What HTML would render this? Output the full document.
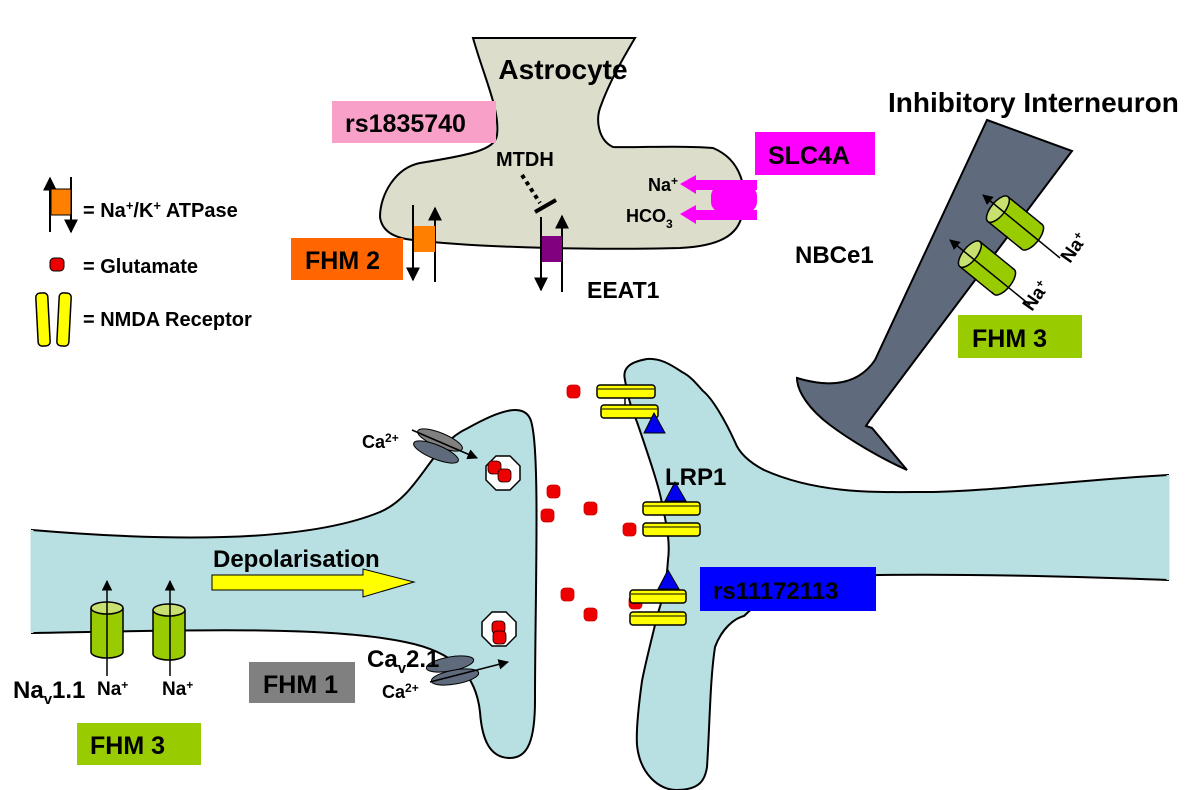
<!DOCTYPE html>
<html><head><meta charset="utf-8"><style>
html,body{margin:0;padding:0;background:#fff}
svg{display:block}
text{font-family:"Liberation Sans",Arial,sans-serif;font-weight:bold;fill:#000}
</style></head><body>
<svg width="1200" height="790" viewBox="0 0 1200 790" xmlns="http://www.w3.org/2000/svg">
<defs>
<marker id="ah" viewBox="0 0 10 10" refX="9" refY="5" markerWidth="7" markerHeight="7" orient="auto-start-reverse"><path d="M0,0 L10,5 L0,10 z" fill="#000"/></marker>
</defs>

<!-- Astrocyte -->
<path d="M473,38 C485,80 500,110 497,135 C495,150 470,155 420,163 C395,168 380,195 380,217 C382,232 395,238 413,240 C480,248 600,250 680,248 C720,246 738,235 742,215 C748,190 742,160 713,148 C680,145 640,148 613,147 C598,140 596,120 600,108 C610,80 625,55 635,38 Z" fill="#ddddcc" stroke="#000" stroke-width="2"/>
<text x="563" y="79" font-size="28" text-anchor="middle">Astrocyte</text>

<!-- Interneuron -->
<path d="M987,120 L1072,151 L870,420 L866,426 L872,428 L907,470 C880,458 850,440 830,425 C810,410 797,392 797,378 C830,388 858,385 875,360 L987,120 Z" fill="#5f6b7c" stroke="#000" stroke-width="2"/>
<text x="888" y="112" font-size="28">Inhibitory Interneuron</text>

<!-- Presynaptic -->
<path d="M32,530 C150,540 300,545 380,512 C420,495 430,445 468,428 C500,410 528,400 532,425 C540,460 535,600 535,700 C535,740 528,758 510,758 C490,758 482,740 480,712 C476,675 455,652 405,642 C330,626 200,630 32,633 Z" fill="#b8dfe2" stroke="#000" stroke-width="2"/>
<path d="M32,530 L32,633" stroke="#b8dfe2" stroke-width="3"/>

<!-- Postsynaptic -->
<path d="M1168,475 C1080,480 980,492 927,492 C880,492 820,495 764,470 C745,460 738,450 735,442 C725,420 712,398 703,391 C695,382 690,376 682,372 C670,364 660,358 647,359 C630,362 622,368 625,380 C628,400 634,415 637,422 C650,460 660,490 662,504 C668,530 670,545 668,560 C666,590 662,600 658,613 C650,645 645,665 642,681 C638,710 636,730 637,745 C640,775 660,790 676,790 C700,790 705,780 707,767 C710,720 710,680 715,647 C722,628 735,618 744,616 C780,580 830,576 880,575 C960,574 1060,576 1168,580 Z" fill="#b8dfe2" stroke="#000" stroke-width="2"/>
<path d="M1168,475 L1168,580" stroke="#b8dfe2" stroke-width="3"/>

<!-- Labels boxes -->
<rect x="332" y="101" width="164" height="42" fill="#f9a0c8"/>
<text x="345" y="132" font-size="25">rs1835740</text>
<rect x="291" y="238" width="112" height="42" fill="#ff6600"/>
<text x="305" y="269" font-size="25">FHM 2</text>
<rect x="755" y="132" width="120" height="43" fill="#ff00ff"/>
<text x="768" y="164" font-size="25">SLC4A</text>
<rect x="958" y="315" width="124" height="43" fill="#99cc00"/>
<text x="972" y="347" font-size="25">FHM 3</text>
<rect x="77" y="723" width="124" height="42" fill="#99cc00"/>
<text x="90" y="754" font-size="25">FHM 3</text>
<rect x="249" y="662" width="106" height="41" fill="#808080"/>
<text x="263" y="693" font-size="25">FHM 1</text>
<rect x="700" y="567" width="176" height="44" fill="#0000ff"/>
<text x="713" y="599" font-size="24">rs11172113</text>

<!-- Astrocyte transporters -->
<line x1="413" y1="205" x2="413" y2="280" stroke="#000" stroke-width="2" marker-end="url(#ah)"/>
<line x1="435" y1="282" x2="435" y2="208" stroke="#000" stroke-width="2" marker-end="url(#ah)"/>
<rect x="414" y="226" width="21" height="26" fill="#ff8000"/>
<line x1="541" y1="217" x2="541" y2="290" stroke="#000" stroke-width="2" marker-end="url(#ah)"/>
<line x1="562" y1="292" x2="562" y2="216" stroke="#000" stroke-width="2" marker-end="url(#ah)"/>
<rect x="542" y="236" width="20" height="26" fill="#800080"/>
<line x1="522" y1="175" x2="540" y2="203" stroke="#000" stroke-width="4" stroke-dasharray="4,4"/>
<line x1="535" y1="212" x2="556" y2="200" stroke="#000" stroke-width="4"/>
<text x="496" y="166" font-size="20">MTDH</text>
<text x="587" y="298" font-size="23">EEAT1</text>
<text x="795" y="263" font-size="24">NBCe1</text>

<!-- NBCe1 magenta -->
<path d="M680,184 L696,175 L696,180 L757,180 L757,190 L696,190 L696,194 Z" fill="#ff00ff"/>
<path d="M680,214 L696,205 L696,210 L757,210 L757,220 L696,220 L696,224 Z" fill="#ff00ff"/>
<rect x="711" y="186" width="46" height="26" rx="10" fill="#ff00ff"/>
<text x="648" y="191" font-size="18">Na<tspan font-size="12" dy="-6">+</tspan></text>
<text x="626" y="222" font-size="18">HCO<tspan font-size="12" dy="6">3</tspan></text>

<!-- Legend -->
<line x1="50" y1="232" x2="50" y2="178" stroke="#000" stroke-width="2" marker-end="url(#ah)"/>
<line x1="71" y1="177" x2="71" y2="232" stroke="#000" stroke-width="2" marker-end="url(#ah)"/>
<rect x="51" y="189" width="20" height="26" fill="#ff8000" stroke="#000" stroke-width="1"/>
<text x="83" y="217" font-size="20">= Na<tspan font-size="13" dy="-7">+</tspan><tspan dy="7">/K</tspan><tspan font-size="13" dy="-7">+</tspan><tspan dy="7"> ATPase</tspan></text>
<rect x="50" y="258" width="14" height="13" rx="4" fill="#e00" stroke="#000"/>
<text x="83" y="273" font-size="20">= Glutamate</text>
<rect x="37" y="293" width="12" height="53" rx="4" fill="#ffff00" stroke="#000" stroke-width="1.5" transform="rotate(-3 43 320)"/>
<rect x="58" y="293" width="12" height="53" rx="4" fill="#ffff00" stroke="#000" stroke-width="1.5" transform="rotate(3 64 320)"/>
<text x="83" y="326" font-size="20">= NMDA Receptor</text>

<!-- Interneuron channels -->
<g stroke="#000" stroke-width="1.5">
<g transform="translate(1015,223) rotate(39)">
<ellipse cx="22" cy="0" rx="7" ry="16" fill="#99cc00"/>
<rect x="-22" y="-15.2" width="44" height="30.4" fill="#99cc00" stroke="none"/>
<ellipse cx="-22" cy="0" rx="7" ry="16" fill="#c8e070"/>
<line x1="-22" y1="-16" x2="22" y2="-16"/><line x1="-22" y1="16" x2="22" y2="16"/>
</g>
<g transform="translate(987,268) rotate(39)">
<ellipse cx="22" cy="0" rx="7" ry="16" fill="#99cc00"/>
<rect x="-22" y="-15.2" width="44" height="30.4" fill="#99cc00" stroke="none"/>
<ellipse cx="-22" cy="0" rx="7" ry="16" fill="#c8e070"/>
<line x1="-22" y1="-16" x2="22" y2="-16"/><line x1="-22" y1="16" x2="22" y2="16"/>
</g>
</g>
<line x1="1060" y1="258" x2="983" y2="195" stroke="#000" stroke-width="1.5" marker-end="url(#ah)"/>
<line x1="1030" y1="305" x2="950" y2="240" stroke="#000" stroke-width="1.5" marker-end="url(#ah)"/>
<g transform="translate(1070,264) rotate(-55)"><text font-size="19">Na<tspan font-size="12" dy="-6">+</tspan></text></g>
<g transform="translate(1032,312) rotate(-55)"><text font-size="19">Na<tspan font-size="12" dy="-6">+</tspan></text></g>

<!-- Nav channels left -->
<g stroke="#000" stroke-width="1.5">
<path d="M91,608 L91,652 A16,6 0 0 0 123,652 L123,608" fill="#99cc00"/>
<ellipse cx="107" cy="608" rx="16" ry="6" fill="#c8e070"/>
<path d="M153,610 L153,654 A16,6 0 0 0 185,654 L185,610" fill="#99cc00"/>
<ellipse cx="169" cy="610" rx="16" ry="6" fill="#c8e070"/>
</g>
<line x1="107" y1="676" x2="107" y2="581" stroke="#000" stroke-width="1.5" marker-end="url(#ah)"/>
<line x1="170" y1="676" x2="170" y2="581" stroke="#000" stroke-width="1.5" marker-end="url(#ah)"/>
<text x="97" y="695" font-size="19">Na<tspan font-size="12" dy="-6">+</tspan></text>
<text x="162" y="695" font-size="19">Na<tspan font-size="12" dy="-6">+</tspan></text>
<text x="13" y="698" font-size="24">Na<tspan font-size="15" dy="6">v</tspan><tspan dy="-6">1.1</tspan></text>

<!-- Depolarisation -->
<text x="213" y="567" font-size="24">Depolarisation</text>
<path d="M212,575 L363,575 L363,569 L414,582 L363,597 L363,590 L212,590 Z" fill="#ffff00" stroke="#000" stroke-width="1"/>

<!-- Ca channels -->
<ellipse cx="440" cy="440" rx="24" ry="7" transform="rotate(22 440 440)" fill="#808080" stroke="#000" stroke-width="1"/>
<ellipse cx="436" cy="452" rx="24" ry="7" transform="rotate(22 436 452)" fill="#5f6b7c" stroke="#000" stroke-width="1"/>
<line x1="412" y1="430" x2="477" y2="458" stroke="#000" stroke-width="1.5" marker-end="url(#ah)"/>
<text x="362" y="448" font-size="18">Ca<tspan font-size="12" dy="-6">2+</tspan></text>
<ellipse cx="450" cy="664" rx="24" ry="7" transform="rotate(-10 450 664)" fill="#5f6b7c" stroke="#000" stroke-width="1"/>
<ellipse cx="455" cy="677" rx="24" ry="7" transform="rotate(-10 455 677)" fill="#5f6b7c" stroke="#000" stroke-width="1"/>
<line x1="430" y1="682" x2="508" y2="662" stroke="#000" stroke-width="1.5" marker-end="url(#ah)"/>
<text x="367" y="667" font-size="24">Ca<tspan font-size="15" dy="6">v</tspan><tspan dy="-6">2.1</tspan></text>
<text x="382" y="698" font-size="18">Ca<tspan font-size="12" dy="-6">2+</tspan></text>

<!-- Vesicles -->
<polygon points="496,456 510,456 520,466 520,480 510,490 496,490 486,480 486,466" fill="#fff" stroke="#000" stroke-width="1.5"/>
<rect x="488" y="461" width="13" height="13" rx="4" fill="#e00" stroke="#000" stroke-width="0.8"/>
<rect x="498" y="469" width="13" height="13" rx="4" fill="#e00" stroke="#000" stroke-width="0.8"/>
<polygon points="492,612 506,612 516,622 516,636 506,646 492,646 482,636 482,622" fill="#fff" stroke="#000" stroke-width="1.5"/>
<rect x="492" y="621" width="13" height="13" rx="4" fill="#e00" stroke="#000" stroke-width="0.8"/>
<rect x="493" y="631" width="13" height="13" rx="4" fill="#e00" stroke="#000" stroke-width="0.8"/>

<!-- Glutamate -->
<g fill="#e00" stroke="#c00" stroke-width="0.8">
<rect x="567" y="385" width="13" height="13" rx="4"/>
<rect x="547" y="485" width="13" height="13" rx="4"/>
<rect x="541" y="509" width="13" height="13" rx="4"/>
<rect x="584" y="502" width="13" height="13" rx="4"/>
<rect x="623" y="523" width="13" height="13" rx="4"/>
<rect x="561" y="588" width="13" height="13" rx="4"/>
<rect x="584" y="608" width="13" height="13" rx="4"/>
<rect x="629" y="596" width="13" height="13" rx="4"/>
</g>

<!-- NMDA receptors -->
<g fill="#ffff00" stroke="#000" stroke-width="1.5">
<line x1="625" y1="398" x2="625" y2="405"/>
<rect x="597" y="385" width="58" height="13" rx="3"/><line x1="598" y1="389" x2="654" y2="389" stroke-width="1"/>
<rect x="601" y="405" width="57" height="13" rx="3"/><line x1="602" y1="409" x2="657" y2="409" stroke-width="1"/>
<rect x="643" y="502" width="57" height="13" rx="3"/><line x1="644" y1="506" x2="699" y2="506" stroke-width="1"/>
<rect x="643" y="523" width="57" height="13" rx="3"/><line x1="644" y1="527" x2="699" y2="527" stroke-width="1"/>
<rect x="630" y="590" width="56" height="13" rx="3"/><line x1="631" y1="594" x2="685" y2="594" stroke-width="1"/>
<rect x="630" y="612" width="56" height="13" rx="3"/><line x1="631" y1="616" x2="685" y2="616" stroke-width="1"/>
</g>
<g fill="#0000ee" stroke="#000" stroke-width="1">
<polygon points="654,413 644,433 665,433"/>
<polygon points="675,482 665,501 686,501"/>
<polygon points="668,570 658,589 679,589"/>
</g>
<text x="665" y="485" font-size="24">LRP1</text>
</svg>
</body></html>
